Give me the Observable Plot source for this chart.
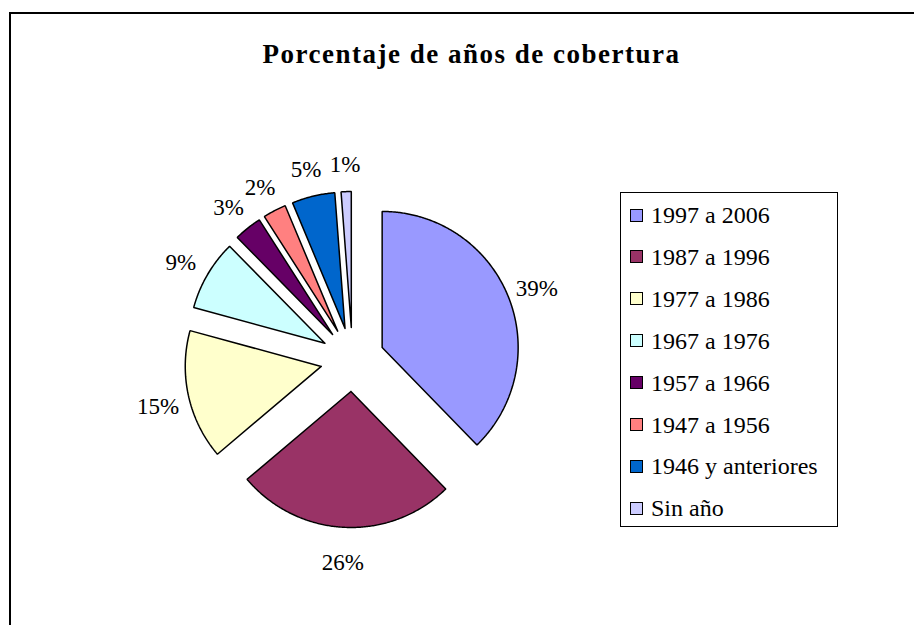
<!DOCTYPE html>
<html>
<head>
<meta charset="utf-8">
<script src="https://cdn.jsdelivr.net/npm/d3@7"></script>
<script src="https://cdn.jsdelivr.net/npm/@observablehq/plot@0.6"></script>
<style>
  body { margin: 0; background: #fff; }
  #wrap { position: relative; width: 914px; height: 625px; overflow: hidden;
          font-family: "Liberation Serif", "Times New Roman", serif; color: #000; }
  #frame { position: absolute; left: 9px; top: 12px; width: 1200px; height: 1000px;
           border-left: 2px solid #000; border-top: 2px solid #000; }
  #chart { position: absolute; left: 0; top: 0; }
  #title { position: absolute; left: 0; width: 943px; top: 41px; text-align: center;
           font-weight: bold; font-size: 27px; line-height: 27px; letter-spacing: 1.5px; white-space: nowrap; }
  #legend { position: absolute; left: 620px; top: 192px; width: 216px; height: 333px;
            border: 1px solid #000; background: #fff; }
  .row { position: absolute; left: 0; height: 24px; display: flex; align-items: center;
         font-size: 24px; line-height: 24px; white-space: nowrap; }
  .sw { width: 11px; height: 11px; border: 1.5px solid #000; margin-left: 9px; margin-right: 8px; flex: none; }
</style>
</head>
<body>
<div id="wrap">
  <div id="frame"></div>
  <div id="chart"></div>
  <div id="title"></div>
  <div id="legend"></div>
</div>
<script>
// ---- data ----
const titleText = "Porcentaje de años de cobertura";
const categories = ["1997 a 2006", "1987 a 1996", "1977 a 1986", "1967 a 1976",
                    "1957 a 1966", "1947 a 1956", "1946 y anteriores", "Sin año"];
const shares = [37.7, 26.1, 15.4, 8.4, 3.3, 2.75, 5.1, 1.2];
const labelText = ["39%", "26%", "15%", "9%", "3%", "2%", "5%", "1%"];
const colors = ["#9999FF", "#993366", "#FFFFCC", "#CCFFFF", "#660066", "#FF8080", "#0066CC", "#CCCCFF"];

// ---- layout ----
const W = 914, H = 625;
const cx = 352, cy = 359, R = 136, explode = 32, labelR = 199;

const arcs = d3.pie().sort(null).value(d => d)(shares);
const u = a => [Math.sin(a), -Math.cos(a)];

const slicePts = [];
const labels = [];
arcs.forEach((a, i) => {
  const mid = (a.startAngle + a.endAngle) / 2;
  const [mx, my] = u(mid);
  const ax = cx + explode * mx, ay = cy + explode * my;
  const cat = categories[i];
  slicePts.push({cat, x: ax, y: ay});
  const n = Math.max(4, Math.ceil((a.endAngle - a.startAngle) / (Math.PI / 360)));
  for (let k = 0; k <= n; k++) {
    const t = a.startAngle + (a.endAngle - a.startAngle) * k / n;
    const [px, py] = u(t);
    slicePts.push({cat, x: ax + R * px, y: ay + R * py});
  }
  slicePts.push({cat, x: ax, y: ay});
  labels.push({cat, text: labelText[i], x: cx + labelR * mx, y: cy + labelR * my});
});

const plot = Plot.plot({
  width: W, height: H, margin: 0,
  style: {background: "transparent"},
  x: {domain: [0, W], range: [0, W], axis: null},
  y: {domain: [0, H], range: [0, H], axis: null},
  color: {type: "ordinal", domain: categories, range: colors, legend: false},
  marks: [
    Plot.line(slicePts, {x: "x", y: "y", z: "cat", fill: "cat", stroke: "#000",
                         strokeWidth: 1.5, strokeLinejoin: "miter", curve: "linear"}),
    Plot.text(labels, {x: "x", y: "y", text: "text", fill: "#000", fontSize: 23, dy: 4,
                       fontFamily: "'Liberation Serif', 'Times New Roman', serif"})
  ]
});
document.getElementById("chart").appendChild(plot);

document.getElementById("title").textContent = titleText;

const legend = document.getElementById("legend");
categories.forEach((c, i) => {
  const row = document.createElement("div");
  row.className = "row";
  row.style.top = (215 + 41.9 * i - 192 - 1 - 12) + "px";
  const sw = document.createElement("div");
  sw.className = "sw";
  sw.style.background = colors[i];
  const tx = document.createElement("span");
  tx.textContent = c;
  row.appendChild(sw);
  row.appendChild(tx);
  legend.appendChild(row);
});
</script>
</body>
</html>
